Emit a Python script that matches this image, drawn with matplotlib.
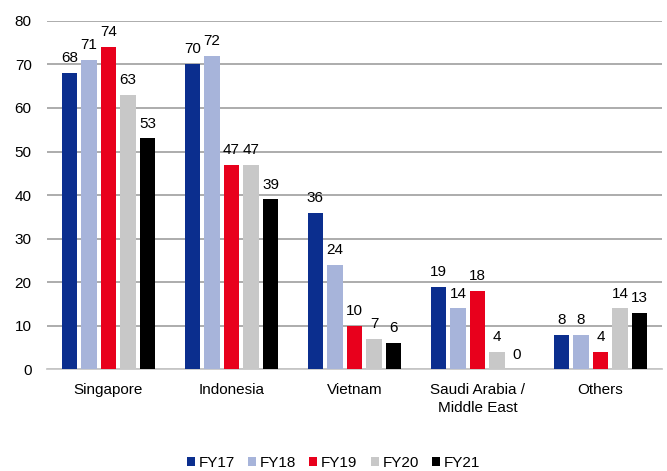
import matplotlib
matplotlib.use("Agg")
import matplotlib.pyplot as plt
import numpy as np

categories = ["Singapore", "Indonesia", "Vietnam", "Saudi Arabia /\nMiddle East", "Others"]
series_names = ["FY17", "FY18", "FY19", "FY20", "FY21"]
fy17 = [68, 70, 36, 19, 8]
fy18 = [71, 72, 24, 14, 8]
fy19 = [74, 47, 10, 18, 4]
fy20 = [63, 47, 7, 4, 14]
fy21 = [53, 39, 6, 0, 13]
series = [fy17, fy18, fy19, fy20, fy21]
colors = ["#0B2E8E", "#A7B4DA", "#E8001C", "#C8C8C8", "#000000"]
yticks = [0, 10, 20, 30, 40, 50, 60, 70, 80]

plt.rcParams['font.family'] = ['Liberation Sans', 'DejaVu Sans']

fig = plt.figure(figsize=(6.67, 4.71), dpi=100)
ax = fig.add_axes([0.0705, 0.2155, 0.922, 0.7405])

x = np.arange(len(categories))
step = 0.159
width = 0.125
for i, (name, vals, c) in enumerate(zip(series_names, series, colors)):
    pos = x + (i - 2) * step
    ax.bar(pos, vals, width=width, color=c, label=name, zorder=3)
    for p, v in zip(pos, vals):
        ax.text(p, v + 1.8, str(v), ha='center', va='bottom', fontsize=11, color='#000000')

ax.set_xlim(-0.5, len(categories) - 0.5)
ax.set_ylim(0, 80)
ax.set_yticks(yticks)
ax.yaxis.grid(True, color='#A6A6A6', linewidth=1.3, zorder=0)
ax.set_axisbelow(True)
for s in ['top', 'right', 'left']:
    ax.spines[s].set_visible(False)
ax.spines['bottom'].set_color('#C8C8C8')
ax.spines['bottom'].set_linewidth(1.3)
ax.tick_params(axis='y', length=0, labelsize=11, pad=11)
ax.tick_params(axis='x', length=0, labelsize=11, pad=10)
ax.set_xticks(x)
ax.set_xticklabels(categories, linespacing=1.35)

fig.legend(loc='center', bbox_to_anchor=(0.5, 8 / 471), ncol=5, frameon=False,
           fontsize=11, handlelength=0.52, handleheight=0.52, handletextpad=0.26,
           columnspacing=0.85, borderaxespad=0)

fig.savefig("out.png", dpi=100)
